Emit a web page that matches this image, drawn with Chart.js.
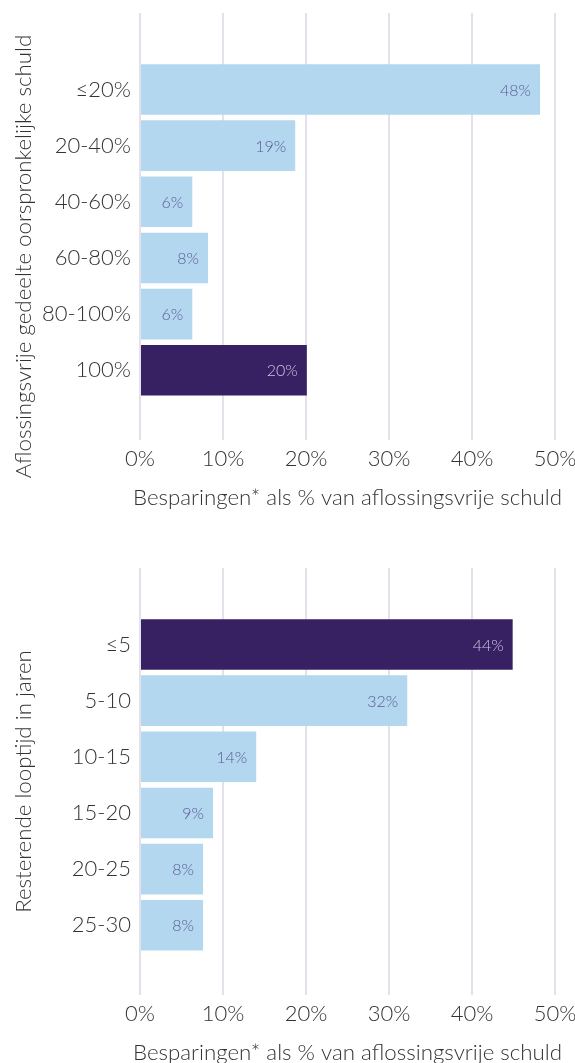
<!DOCTYPE html>
<html>
<head>
<meta charset="utf-8">
<script src="https://cdn.jsdelivr.net/npm/chart.js@4"></script>
<style>
  html, body { margin: 0; padding: 0; background: #fff; overflow: hidden; }
  .chart-box { position: relative; width: 575px; height: 555px; }
</style>
</head>
<body>
<div class="chart-box"><canvas id="chart-schuld" width="575" height="555"></canvas></div>
<div class="chart-box"><canvas id="chart-looptijd" width="575" height="555"></canvas></div>
<script>
'use strict';

// --- Data -----------------------------------------------------------------

// Grafiek 1: aflossingsvrije gedeelte van de oorspronkelijke schuld
const schuldCategories = ['≤20%', '20-40%', '40-60%', '60-80%', '80-100%', '100%'];
const schuldValues = [48.2, 18.7, 6.3, 8.2, 6.3, 20.1];
const schuldLabels = ['48%', '19%', '6%', '8%', '6%', '20%'];

// Grafiek 2: resterende looptijd in jaren
const looptijdCategories = ['≤5', '5-10', '10-15', '15-20', '20-25', '25-30'];
const looptijdValues = [44.9, 32.2, 14.0, 8.8, 7.6, 7.6];
const looptijdLabels = ['44%', '32%', '14%', '9%', '8%', '8%'];

const xTicks = [0, 10, 20, 30, 40, 50];
const xTitle = 'Besparingen* als % van aflossingsvrije schuld';

// --- Stijl ----------------------------------------------------------------

const COLORS = {
  bar: '#b3d7ef',
  highlight: '#372162',
  label: '#5d5a98',
  labelOnDark: '#cdc6e4',
  grid: '#e3e1ea',
  text: '#333333',
};
const FONT = 'Lato, "Open Sans", sans-serif';
const TICK_FONT = { family: FONT, size: 22, weight: 300 };

// Lege ruimte boven/onder de balken, in categorie-eenheden.
const Y_MIN = -1.36;
const Y_MAX = 6.24;

// Percentages binnen het uiteinde van elke balk.
const valueLabels = {
  id: 'valueLabels',
  afterDatasetsDraw(chart) {
    const { ctx } = chart;
    const ds = chart.data.datasets[0];
    const meta = chart.getDatasetMeta(0);
    ctx.save();
    ctx.font = '300 16px ' + FONT;
    ctx.textAlign = 'right';
    ctx.textBaseline = 'middle';
    meta.data.forEach((bar, i) => {
      ctx.fillStyle = i === ds._highlight ? COLORS.labelOnDark : COLORS.label;
      ctx.fillText(ds._labels[i], bar.x - 9, bar.y + 1);
    });
    ctx.restore();
  },
};

// Astitels: de ingebouwde titel wordt afgekapt op de aslengte, het origineel
// loopt er iets buiten.
const axisTitles = {
  id: 'axisTitles',
  afterDraw(chart, args, opts) {
    const { ctx, chartArea } = chart;
    ctx.save();
    ctx.fillStyle = COLORS.text;
    ctx.textAlign = 'center';
    ctx.textBaseline = 'middle';
    ctx.font = '300 22.3px ' + FONT;
    ctx.fillText(opts.x, (chartArea.left + chartArea.right) / 2, chartArea.bottom + 58);
    ctx.translate(23.5, (chartArea.top + chartArea.bottom) / 2 + opts.yShift);
    ctx.rotate(-Math.PI / 2);
    ctx.fillText(opts.y, 0, 0);
    ctx.restore();
  },
};

function makeBarChart(canvasId, categories, values, labels, yTitle, yShift, highlight) {
  const ctx = document.getElementById(canvasId).getContext('2d');
  return new Chart(ctx, {
    type: 'bar',
    data: {
      datasets: [{
        data: values.map((v, i) => ({ x: v, y: i })),
        backgroundColor: values.map((v, i) => (i === highlight ? COLORS.highlight : COLORS.bar)),
        barPercentage: 0.9,
        categoryPercentage: 1,
        _labels: labels,
        _highlight: highlight,
      }],
    },
    options: {
      indexAxis: 'y',
      responsive: false,
      animation: false,
      layout: { padding: { top: 13, bottom: 76.6, left: 0, right: 0 } },
      plugins: {
        legend: { display: false },
        tooltip: { enabled: false },
        axisTitles: { x: xTitle, y: yTitle, yShift },
      },
      scales: {
        x: {
          type: 'linear',
          bounds: 'data',
          min: xTicks[0],
          max: xTicks[xTicks.length - 1],
          afterBuildTicks: (scale) => { scale.ticks = xTicks.map((v) => ({ value: v })); },
          afterFit: (scale) => { scale.paddingRight = 20; scale.paddingLeft = 0; },
          ticks: {
            callback: (v) => v + '%',
            padding: 6,
            color: COLORS.text,
            font: TICK_FONT,
          },
          grid: { color: COLORS.grid, lineWidth: 2, drawTicks: false },
          border: { display: false },
        },
        y: {
          type: 'linear',
          bounds: 'data',
          offset: false,
          reverse: true,
          min: Y_MIN,
          max: Y_MAX,
          afterDataLimits: (scale) => { scale.min = Y_MIN; scale.max = Y_MAX; },
          afterBuildTicks: (scale) => {
            scale.ticks = categories.map((c, i) => ({ value: i }));
            scale.min = Y_MIN;
            scale.max = Y_MAX;
          },
          afterFit: (scale) => {
            scale.width = 140;
            scale.paddingTop = 0;
            scale.paddingBottom = 0;
          },
          ticks: {
            callback: (v) => categories[v],
            padding: 9,
            color: COLORS.text,
            font: TICK_FONT,
          },
          grid: { display: false, drawTicks: false, offset: false },
          border: { display: false },
        },
      },
    },
    plugins: [valueLabels, axisTitles],
  });
}

makeBarChart('chart-schuld', schuldCategories, schuldValues, schuldLabels,
  'Aflossingsvrije gedeelte oorspronkelijke schuld', 30, 5);
makeBarChart('chart-looptijd', looptijdCategories, looptijdValues, looptijdLabels,
  'Resterende looptijd in jaren', 0, 0);
</script>
</body>
</html>
